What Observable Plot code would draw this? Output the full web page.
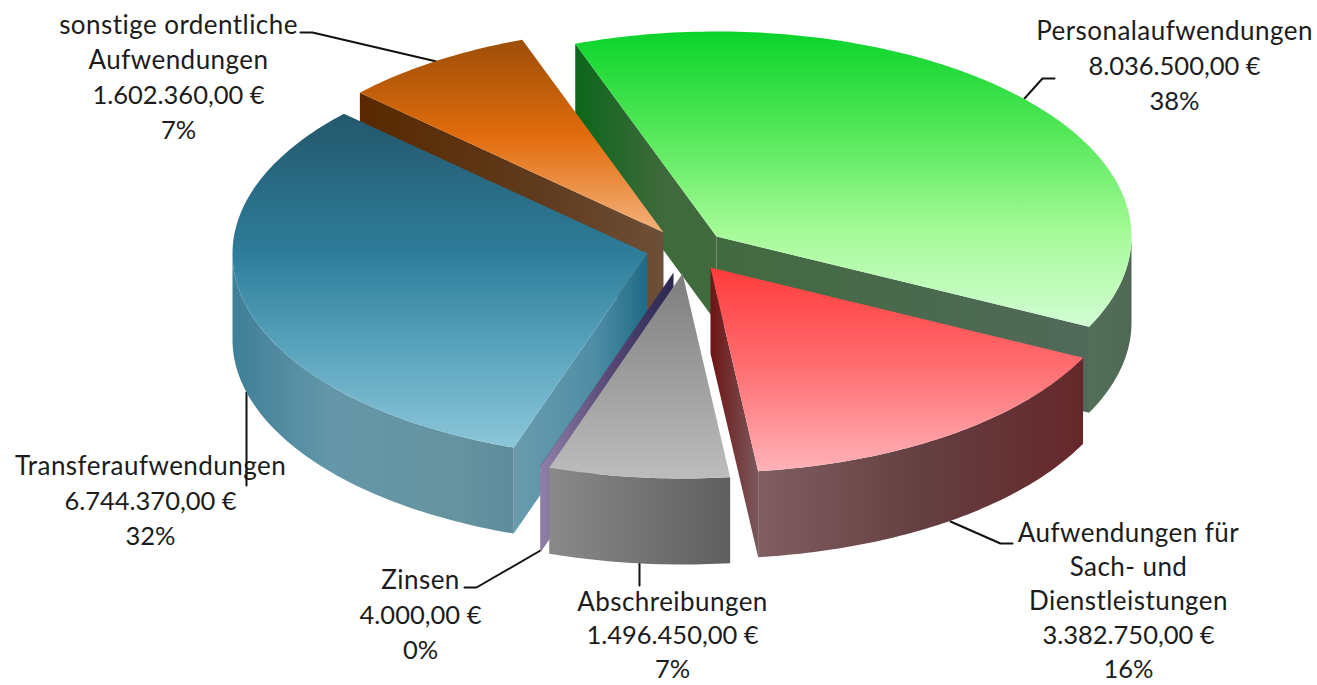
<!DOCTYPE html>
<html><head><meta charset="utf-8">
<script src="https://cdn.jsdelivr.net/npm/d3@7"></script>
<script src="https://cdn.jsdelivr.net/npm/@observablehq/plot@0.6"></script>
<style>html,body{margin:0;padding:0;background:#fff}svg{display:block}</style>
</head><body><div id="chart"></div>
<script>
// Data
const categories = ["Personalaufwendungen","Aufwendungen für Sach- und Dienstleistungen","Abschreibungen","Zinsen","Transferaufwendungen","sonstige ordentliche Aufwendungen"];
const keys = ["pers","sach","abs","zin","trans","sonst"];
const values = [8036500,3382750,1496450,4000,6744370,1602360];
const labelLines = [
  ["Personalaufwendungen","8.036.500,00 €","38%"],
  ["Aufwendungen für","Sach- und","Dienstleistungen","3.382.750,00 €","16%"],
  ["Abschreibungen","1.496.450,00 €","7%"],
  ["Zinsen","4.000,00 €","0%"],
  ["Transferaufwendungen","6.744.370,00 €","32%"],
  ["sonstige ordentliche","Aufwendungen","1.602.360,00 €","7%"]
];
// Layout
const W = 1317, H = 685;
const startAngle = -19.9, rx = 415, ry = 205, depth = 86;
const apexX = [716,710,682,673,647,663];
const apexY = [236,267,273,272,253,232];
const labelX = [1174,1128,672,420,150,178];
const labelY = [31,533,602,580,466,25];
const linePitch = [35,34.2,33.5,35,35,35];
const leaders = [
  [[1024,98],[1042,78],[1054,78]],
  [[950,521],[1000,543],[1012,543]],
  [[639,562],[639,585]],
  [[540,550],[476,587],[464,587]],
  [[246,392],[246,485]],
  [[436,61],[312,32],[300,32]]
];
// Styles
const topStops = {
  pers:[[0,"#0bd42b"],[.35,"#55e85a"],[.68,"#a6fb98"],[1,"#d2fcd4"]],
  sach:[[0,"#ff3c3c"],[.5,"#ff6f72"],[1,"#ffb2b8"]],
  abs:[[0,"#7d7d7d"],[1,"#bdbdbd"]],
  zin:[[0,"#3a3060"],[1,"#6a5a8a"]],
  trans:[[0,"#23586c"],[.42,"#2e7d9a"],[.7,"#58a3bc"],[1,"#8cc6da"]],
  sonst:[[0,"#9c4e08"],[.5,"#e26c0c"],[1,"#f4b27c"]]
};
const wallStops = {
  pers:[[0,"#0a661a"],[.17,"#3f6a3b"],[1,"#51695a"]],
  sach:[[0,"#6e1414"],[1,"#7a5a5c"]],
  abs:[[0,"#8a8a8a"],[1,"#5e5e5e"]],
  zin:[[0,"#8e80a6"],[.5,"#5a4a78"],[1,"#2a2650"]],
  trans:[[0,"#6a9bad"],[.6,"#4f8ea6"],[1,"#1f6a85"]],
  sonst:[[0,"#592900"],[.6,"#5f3b1e"],[1,"#6d4f38"]]
};
const rimStops = {
  pers:[[0,"#52705a"],[1,"#4f6854"]],
  sach:[[0,"#805d60"],[.5,"#644042"],[1,"#66272a"]],
  abs:[[0,"#8a8a8a"],[1,"#5e5e5e"]],
  zin:[[0,"#8e80a6"],[1,"#8e80a6"]],
  trans:[[0,"#3f7f98"],[.35,"#6497a9"],[.8,"#66939f"],[1,"#5e8b9c"]],
  sonst:[[0,"#592900"],[1,"#6d4f38"]]
};
const drawOrder = ["pers","sonst","trans","sach","zin","abs"];

// Angles from the values
const total = d3.sum(values);
let acc = startAngle;
const slices = values.map((v,i)=>{
  const a0 = acc, a1 = acc + v/total*360; acc = a1;
  return {key:keys[i],name:categories[i],a0,a1,cx:apexX[i],cy:apexY[i]};
});
const rad = d=>d*Math.PI/180;
const sn = t=>Math.sin(rad(t));
const rimPoint = (s,t,dz=0)=>({x:s.cx+rx*Math.sin(rad(t)),y:s.cy-ry*Math.cos(rad(t))+dz});
function arc(s,a,b,dz=0){
  const pts=[]; const n=Math.max(1,Math.ceil(Math.abs(b-a)));
  for(let k=0;k<=n;k++) pts.push(rimPoint(s,a+(b-a)*k/n,dz));
  return pts;
}
function wall(s,t){
  const p=rimPoint(s,t);
  return [{x:s.cx,y:s.cy},p,{x:p.x,y:p.y+depth},{x:s.cx,y:s.cy+depth}];
}
// Wall gradient runs across all of a slice's visible walls, so both walls of a slice share it
function wallSpan(s){
  const xs=[s.cx];
  if(sn(s.a0)<0) xs.push(rimPoint(s,s.a0).x);
  if(sn(s.a1)>0) xs.push(rimPoint(s,s.a1).x);
  return d3.extent(xs);
}
function defs(){
  const d=d3.create("svg:defs");
  const add=(id,stops,vertical)=>{
    const g=d.append("linearGradient").attr("id",id)
      .attr("x1",0).attr("y1",0).attr("x2",vertical?0:1).attr("y2",vertical?1:0);
    stops.forEach(([o,c])=>g.append("stop").attr("offset",o).attr("stop-color",c));
  };
  keys.forEach((k,i)=>{
    add("top-"+k,topStops[k],true);
    add("rim-"+k,rimStops[k],false);
    const [x1,x2]=wallSpan(slices[i]);
    const g=d.append("linearGradient").attr("id","wall-"+k).attr("gradientUnits","userSpaceOnUse")
      .attr("x1",x1).attr("y1",0).attr("x2",x2).attr("y2",0);
    wallStops[k].forEach(([o,c])=>g.append("stop").attr("offset",o).attr("stop-color",c));
  });
  return d.node();
}
const poly=(pts,fill)=>Plot.line(pts,{x:"x",y:"y",fill,stroke:"none",curve:"linear"});
const sliceMarks=[];
drawOrder.forEach(k=>{
  const s=slices.find(d=>d.key===k);
  if(sn(s.a0)<0) sliceMarks.push(poly(wall(s,s.a0),`url(#wall-${k})`));
  if(sn(s.a1)>0) sliceMarks.push(poly(wall(s,s.a1),`url(#wall-${k})`));
  const lo=Math.max(s.a0,90), hi=Math.min(s.a1,270);
  if(hi>lo && k!=="zin") sliceMarks.push(poly([...arc(s,lo,hi),...arc(s,hi,lo,depth)],`url(#rim-${k})`));
  sliceMarks.push(poly([{x:s.cx,y:s.cy},...arc(s,s.a0,s.a1)],`url(#top-${k})`));
});
const leaderMarks=leaders.map(l=>Plot.line(l.map(([x,y])=>({x,y})),{x:"x",y:"y",stroke:"#111",strokeWidth:2,curve:"linear"}));
const textRows=labelLines.flatMap((lines,i)=>lines.map((t,j)=>({t,x:labelX[i],y:labelY[i]+j*linePitch[i],word:!/\d/.test(t)})));
const textOpts={x:"x",y:"y",text:"t",fontFamily:"Lato",fill:"#1c1c1c",textAnchor:"middle",lineAnchor:"middle"};
const chart=Plot.plot({
  width:W,height:H,margin:0,
  x:{domain:[0,W],range:[0,W],axis:null},
  y:{domain:[0,H],range:[0,H],axis:null},
  style:{background:"#fff"},
  marks:[
    defs,
    ...leaderMarks,
    ...sliceMarks,
    Plot.text(textRows.filter(d=>d.word),{...textOpts,fontSize:26}),
    Plot.text(textRows.filter(d=>!d.word),{...textOpts,fontSize:25.5})
  ]
});
chart.querySelectorAll('g[font-size="26"] text').forEach(t=>{ t.style.letterSpacing=".45px"; });
document.getElementById("chart").append(chart);
</script></body></html>
